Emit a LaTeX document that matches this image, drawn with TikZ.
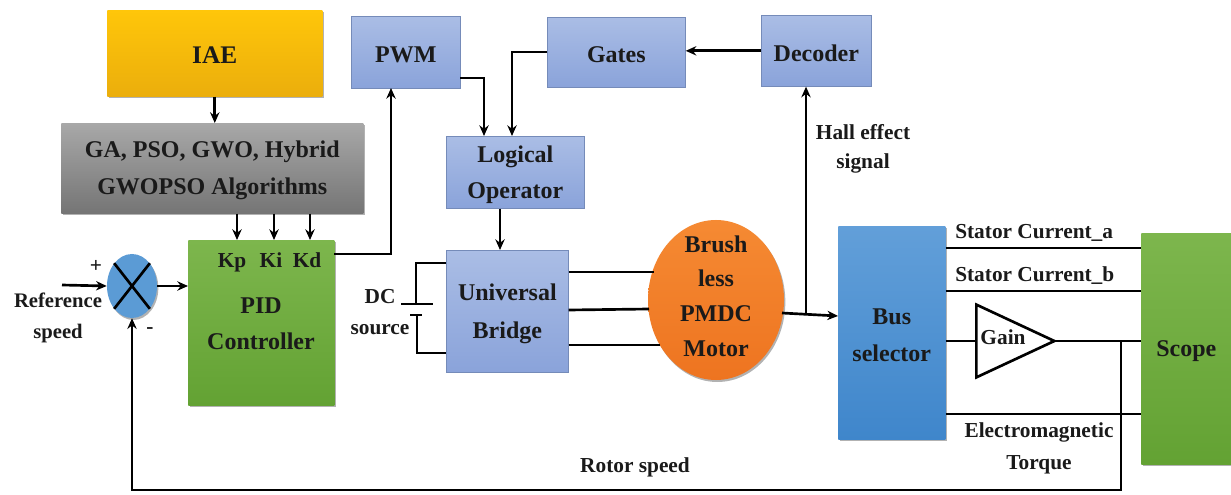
\documentclass[tikz,border=0pt]{standalone}
\usepackage{fontspec}
\setmainfont{Liberation Serif}
\usetikzlibrary{arrows.meta,shapes.geometric,shadows}
\definecolor{txt}{HTML}{1A1A1A}
\definecolor{blue1}{HTML}{AABDE5}
\definecolor{blue2}{HTML}{8AA3DA}
\definecolor{green1}{HTML}{7DB64D}
\definecolor{green2}{HTML}{63A233}
\definecolor{gold1}{HTML}{FFC60A}
\definecolor{gold2}{HTML}{EBAE0C}
\definecolor{gray1}{HTML}{A8A8A8}
\definecolor{gray2}{HTML}{757575}
\definecolor{sky1}{HTML}{629FD9}
\definecolor{sky2}{HTML}{3F86CB}
\definecolor{sumblue}{HTML}{5B9BD5}
\definecolor{org1}{HTML}{F58A33}
\definecolor{org2}{HTML}{EE7420}
\tikzset{
  x=0.75pt,y=-0.75pt,
  every node/.style={font=\fontsize{18}{21}\selectfont\bfseries,text=txt,align=center,inner sep=0pt},
  shade1/.style={drop shadow={shadow xshift=1pt,shadow yshift=-1.5pt,opacity=.3,fill=black}},
  bluebox/.style={top color=blue1,bottom color=blue2,draw=blue2!85!black,line width=.5pt},
  greenbox/.style={top color=green1,bottom color=green2,shade1},
  wire/.style={draw=black,line width=2pt},
  arr/.style={wire,-{Stealth[length=8pt,width=7pt]}},
  lbl/.style={font=\fontsize{16}{20}\selectfont\bfseries},
}
\newcommand{\bx}[7]{\node[#6,minimum width=#4*0.75pt,minimum height=#5*0.75pt,anchor=north west] (#1) at (#2,#3) {\rule{0pt}{16pt}#7};}
\begin{document}
\begin{tikzpicture}
\useasboundingbox (0,0) rectangle (1231,495);
\fill[white] (0,0) rectangle (1231,495);
% boxes
\bx{iae}{107}{10}{215}{86}{top color=gold1,bottom color=gold2,shade1}{\fontsize{19}{22}\selectfont IAE}
\bx{ga}{61}{123}{302}{90}{top color=gray1,bottom color=gray2,shade1}{GA, PSO, GWO, Hybrid\\[6.5pt]GWOPSO Algorithms}
\node[minimum width=146*0.75pt,minimum height=165*0.75pt,anchor=north west,greenbox] (pid) at (188,240) {};
\node (pidt) at (261,324) {PID\\[6pt]Controller};
\node[ellipse,minimum width=50*0.75pt,minimum height=64*0.75pt,fill=sumblue,shade1] (sum) at (132,286) {};
\bx{pwm}{351}{16}{109}{72}{bluebox}{PWM}
\bx{gates}{547}{17}{138}{70}{bluebox}{Gates}
\bx{dec}{761}{15}{110}{71}{bluebox}{Decoder}
\bx{logic}{446}{136}{138}{72}{bluebox}{Logical\\[5.5pt]Operator}
\bx{ub}{446}{250}{122}{122}{bluebox}{Universal\\[7pt]Bridge}
\node[ellipse,minimum width=136*0.75pt,minimum height=160*0.75pt,top color=org1,bottom color=org2,shade1] (motor) at (716,300) {};
\node (motort) at (716,296) {Brush\\[5pt]less\\[5pt]PMDC\\[5pt]Motor};
\bx{bus}{838}{226}{107}{213}{top color=sky1,bottom color=sky2,shade1}{Bus\\[7pt]selector}
\bx{scope}{1141}{233}{90}{231}{greenbox}{Scope}
\node[isosceles triangle,isosceles triangle apex angle=50,draw=black,line width=2pt,fill=white,minimum width=72*0.75pt,minimum height=78*0.75pt,anchor=lower side,shape border rotate=0,inner sep=0pt] (gain) at (975,341) {};
\node[lbl] (gaint) at (1003,337) {Gain};
% sum cross
\draw[wire] (sum.north west) -- (sum.south east);
\draw[wire] (sum.south west) -- (sum.north east);
% free points
\coordinate (refin) at (62,285);
\coordinate (kp) at (237,0); \coordinate (ki) at (274,0); \coordinate (kd) at (310,0);
\coordinate (pidout) at (334,254);
\coordinate (pwmin) at (391,88);
\coordinate (pwmout) at (460,78);
\coordinate (logA) at (484,136);
\coordinate (gatesout) at (547,52);
\coordinate (logB) at (512,136);
\coordinate (ubtop) at (500,0);
\coordinate (junc) at (806,313);
\coordinate (motorout) at (782,313);
\coordinate (fb) at (1121,341);
\coordinate (fbc) at (1121,490);
% connectors
\draw[arr] (refin) -- (sum.west);
\draw[arr] (sum.east) -- (pid.west |- sum.east);
\draw[arr] (iae.south) -- (iae.south |- ga.north);
\foreach \k in {kp,ki,kd} \draw[arr] (ga.south -| \k) -- (pid.north -| \k);
\draw[arr] (pidout) -| (pwmin);
\draw[arr] (pwmout) -| (logA);
\draw[arr] (gatesout) -| (logB);
\draw[arr] (dec.west) -- (gates.east |- dec.west);
\draw[arr] (ubtop |- logic.south) -- (ubtop |- ub.north);
\draw[wire] (ub.east |- 0,272) -- (654,272);
\draw[wire] (ub.east |- 0,310) -- (649,309);
\draw[wire] (ub.east |- 0,345) -- (660,345);
\draw[wire] (ub.west |- 0,263) -- (416,263) -- (416,304);
\draw[wire] (401,304) -- (433,304);
\draw[wire] (410,315) -- (422,315);
\draw[wire] (417,315) -- (417,353) -- (ub.west |- 0,353);
\draw[arr] (motorout) -- (bus.west |- 0,316);
\draw[arr] (junc) -- (junc |- dec.south);
\draw[wire] (bus.east |- 0,248) -- (scope.west |- 0,248);
\draw[wire] (bus.east |- 0,291) -- (scope.west |- 0,291);
\draw[wire] (bus.east |- gain.lower side) -- (gain.lower side);
\draw[wire,shorten <=-4pt] (gain.apex) -- (scope.west |- gain.apex);
\draw[wire] (bus.east |- 0,414) -- (scope.west |- 0,414);
\draw[arr] (fb) -- (fbc) -| (sum.south);
% labels
\node[lbl] (plus) at (96,266) {+};
\node[lbl] (minus) at (150,331) {-};
\node[lbl,font=\fontsize{15.5}{20}\selectfont\bfseries] (ref) at (58,318) {Reference\\[3pt]speed};
\node (kpt) at (232,261) [lbl,anchor=base,yshift=-5pt] {Kp};
\node (kit) at (271,261) [lbl,anchor=base,yshift=-5pt] {Ki};
\node (kdt) at (307,261) [lbl,anchor=base,yshift=-5pt] {Kd};
\node[lbl] (dc) at (380,312) {DC\\[3pt]source};
\node[lbl] (hall) at (863,149) {Hall effect\\[2pt]signal};
\node[lbl,anchor=west] (sa) at (955,233) {Stator Current\_a};
\node[lbl,anchor=west] (sb) at (955,276) {Stator Current\_b};
\node[lbl] (em) at (1039,448) {Electromagnetic\\[4pt]Torque};
\node[lbl] (rs) at (635,467) {Rotor speed};
\end{tikzpicture}
\end{document}
